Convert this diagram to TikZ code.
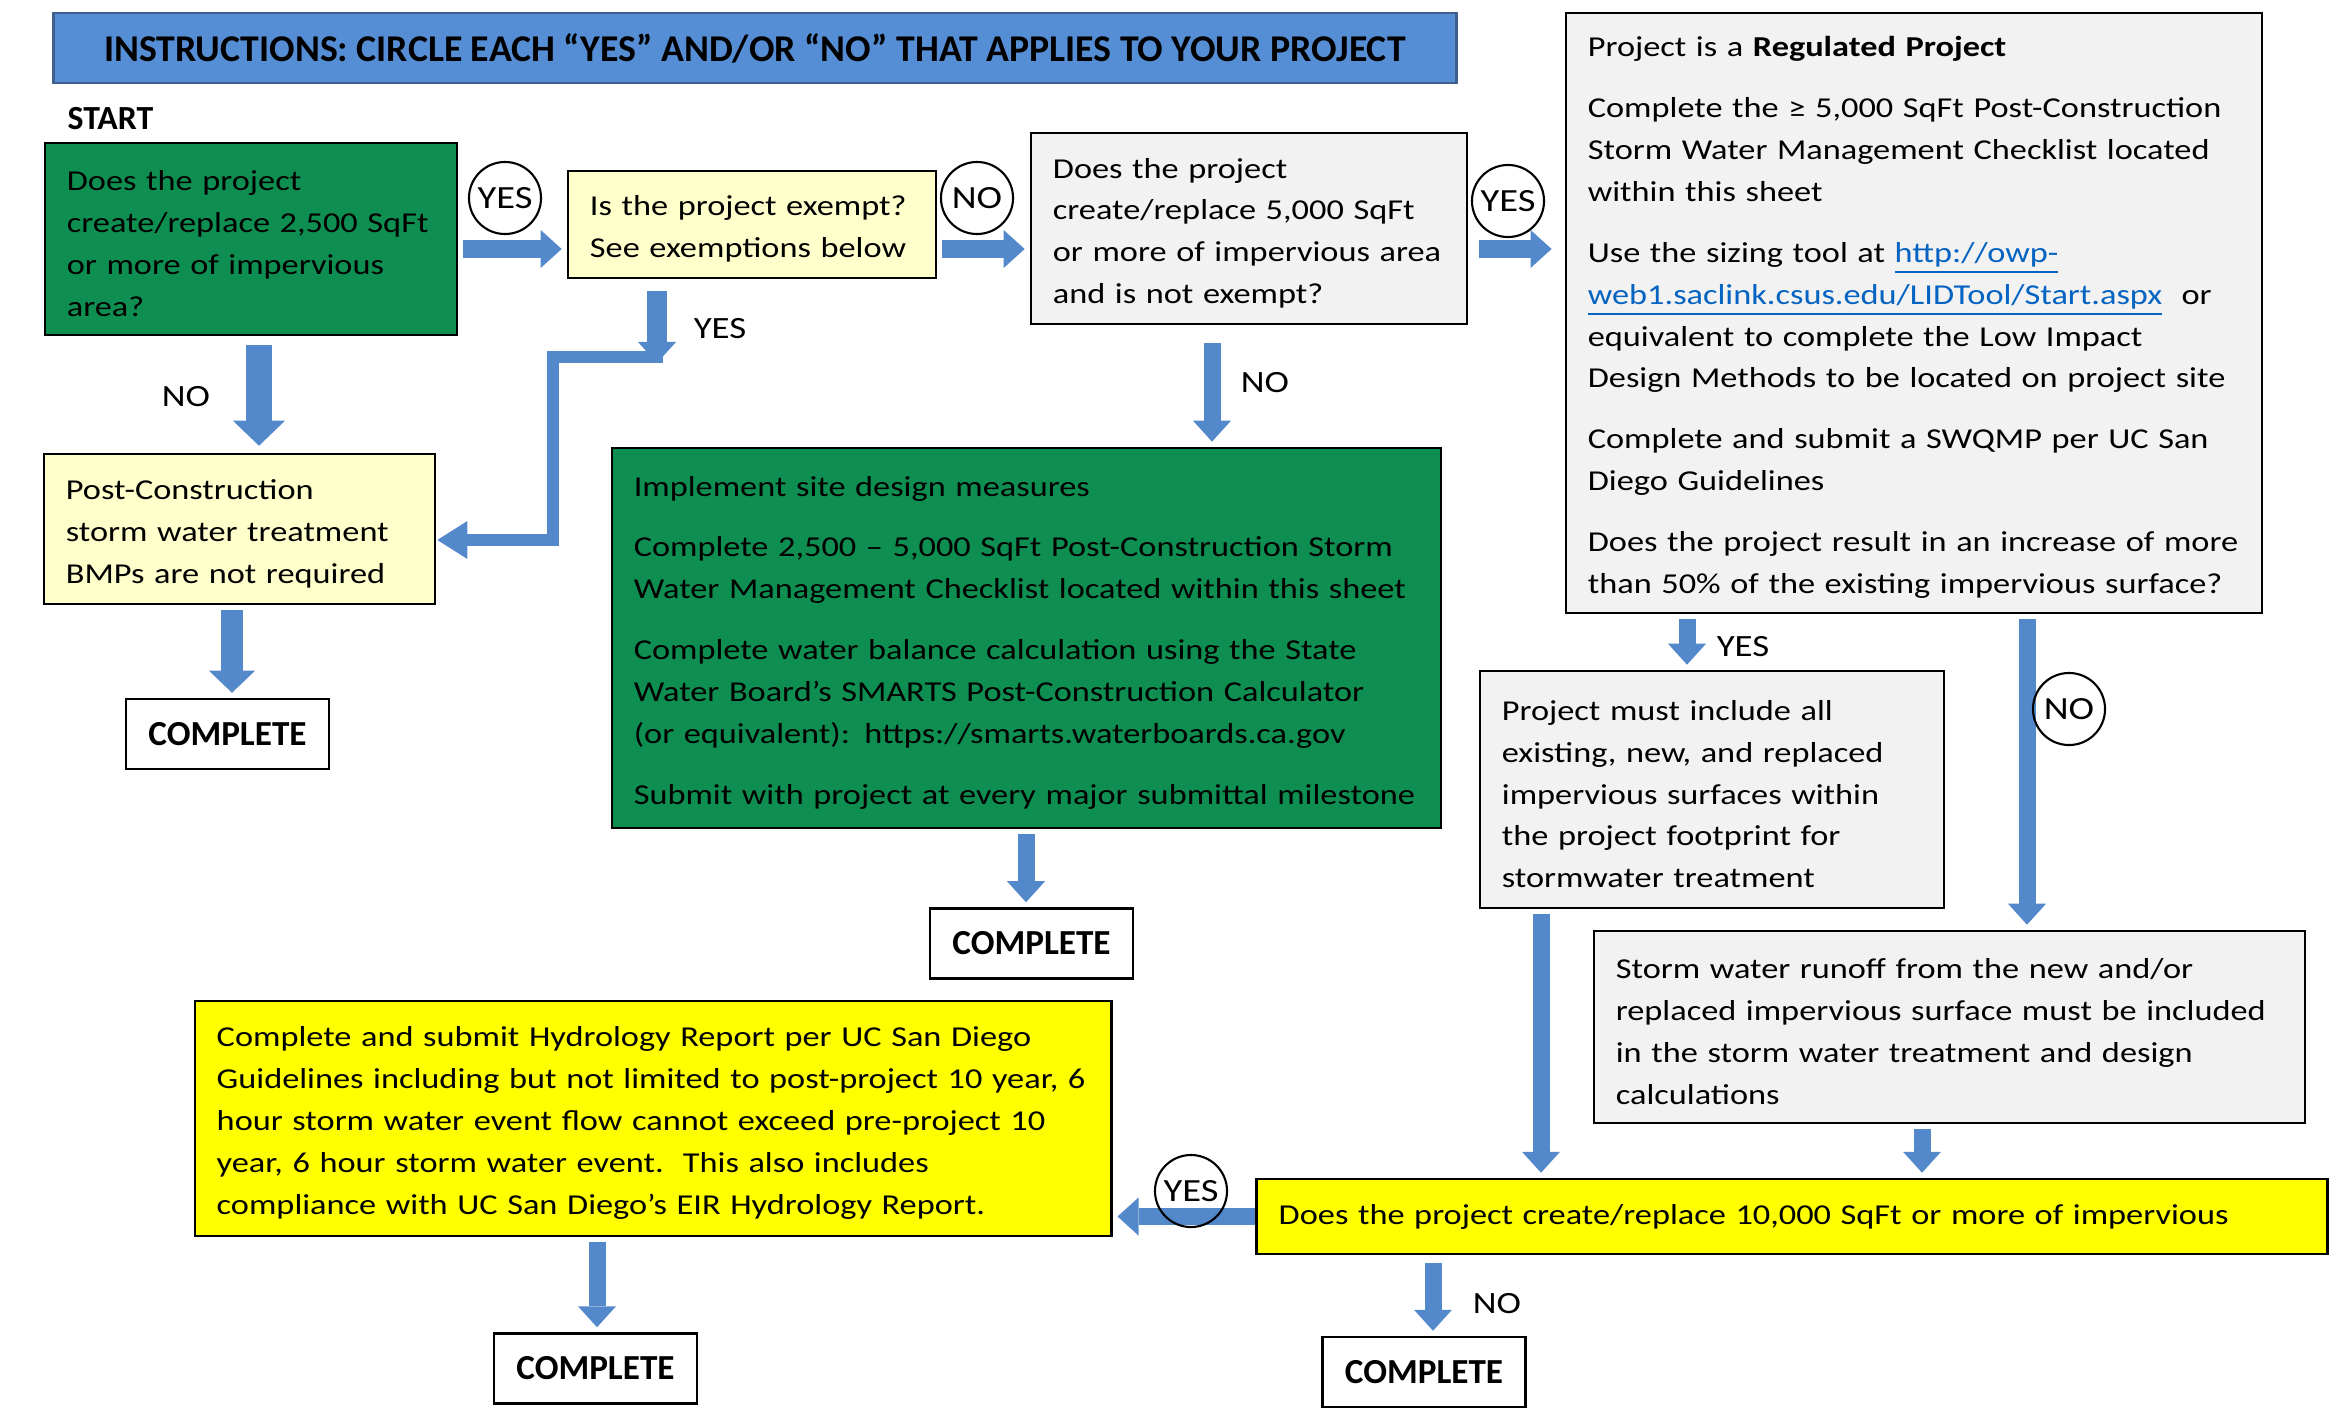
\documentclass[tikz,border=0pt]{standalone}
\usepackage{fontspec}
\setmainfont{Carlito}[FakeStretch=1.19]
\newfontfamily\headfont{Carlito}
\usetikzlibrary{arrows.meta}

\definecolor{barblue}{RGB}{85,142,213}
\definecolor{baredge}{RGB}{65,95,140}
\definecolor{flowblue}{RGB}{83,136,203}
\definecolor{gogreen}{RGB}{14,142,80}
\definecolor{paleyellow}{RGB}{255,255,204}
\definecolor{palegrey}{RGB}{242,242,242}
\definecolor{brightyellow}{RGB}{255,255,0}
\definecolor{linkblue}{RGB}{5,99,193}

\newcommand{\weblink}[1]{\textcolor{linkblue}{\underline{#1}}}

\begin{document}
\begin{tikzpicture}[
  x=0.01cm, y=-0.01cm,
  box/.style={draw, line width=0.7pt, inner xsep=0.22cm, inner ysep=0pt, align=left,
              font=\fontsize{8.2}{11.9}\selectfont, execute at begin node=\strut},
  done/.style={draw, line width=0.7pt, minimum width=2.03cm, minimum height=0.70cm,
               font=\headfont\bfseries\fontsize{10}{12}\selectfont},
  pick/.style={draw, circle, line width=0.6pt, minimum size=0.72cm, inner sep=0pt,
               font=\fontsize{9.2}{11}\selectfont},
  tag/.style={font=\fontsize{8.8}{11}\selectfont},
  arr/.style={draw=flowblue, line width=0.17cm, shorten <=0.05cm, shorten >=0.05cm,
              -{Triangle[width=0.38cm,length=0.21cm,line width=0pt]}},
]
\useasboundingbox (0,0) rectangle (2334,1418);

% header
\node[fill=barblue, draw=baredge, line width=0.7pt, minimum width=14.02cm, minimum height=0.70cm,
      font=\headfont\bfseries\fontsize{10.75}{12}\selectfont] (title) at (755,48)
  {INSTRUCTIONS: CIRCLE EACH “YES” AND/OR “NO” THAT APPLIES TO YOUR PROJECT};
\node[anchor=west, inner sep=0pt, font=\headfont\bfseries\fontsize{9.6}{12}\selectfont] (start) at (67,119) {START};

% first row
\node[box, fill=gogreen, text width=3.68cm, minimum height=1.92cm] (q2500) at (251,239)
  {Does the project\\ create/replace 2,500 SqFt\\ or more of impervious\\ area?};
\node[box, fill=paleyellow, text width=3.24cm, minimum height=1.07cm] (exempt) at (752,224.5)
  {Is the project exempt?\\ See exemptions below};
\node[box, fill=palegrey, text width=3.92cm, minimum height=1.91cm] (q5000) at (1249,228.5)
  {Does the project\\ create/replace 5,000 SqFt\\ or more of impervious area\\ and is not exempt?};
\node[box, fill=palegrey, text width=6.52cm, minimum height=6.00cm] (regulated) at (1914,313)
  {Project is a \textbf{Regulated Project}\\[0.19cm]
   Complete the ≥ 5,000 SqFt Post-Construction\\
   Storm Water Management Checklist located\\
   within this sheet\\[0.19cm]
   Use the sizing tool at \weblink{http://owp-}\\
   \weblink{web1.saclink.csus.edu/LIDTool/Start.aspx}\ \ or\\
   equivalent to complete the Low Impact\\
   Design Methods to be located on project site\\[0.19cm]
   Complete and submit a SWQMP per UC San\\
   Diego Guidelines\\[0.19cm]
   Does the project result in an increase of more\\
   than 50\% of the existing impervious surface?};

% middle
\node[box, fill=paleyellow, text width=3.47cm, minimum height=1.50cm] (notreq) at (239.5,529)
  {Post-Construction\\ storm water treatment\\ BMPs are not required};
\node[box, fill=gogreen, text width=7.85cm, minimum height=3.80cm] (measures) at (1026.5,638)
  {Implement site design measures\\[0.19cm]
   Complete 2,500 – 5,000 SqFt Post-Construction Storm\\
   Water Management Checklist located within this sheet\\[0.19cm]
   Complete water balance calculation using the State\\
   Water Board’s SMARTS Post-Construction Calculator\\
   (or equivalent): https://smarts.waterboards.ca.gov\\[0.19cm]
   Submit with project at every major submittal milestone};
\node[box, fill=palegrey, text width=4.20cm, minimum height=2.37cm] (footprint) at (1712,789.5)
  {Project must include all\\ existing, new, and replaced\\ impervious surfaces within\\
   the project footprint for\\ stormwater treatment};
\node[box, fill=palegrey, text width=6.67cm, minimum height=1.92cm] (runoff) at (1949.5,1027)
  {Storm water runoff from the new and/or\\ replaced impervious surface must be included\\
   in the storm water treatment and design\\ calculations};

% bottom
\node[box, fill=brightyellow, text width=10.26cm, minimum height=0.75cm] (q10000) at (1792,1216.5)
  {Does the project create/replace 10,000 SqFt or more of impervious};
\node[box, fill=brightyellow, text width=8.72cm, minimum height=2.35cm] (hydro) at (653,1118.5)
  {Complete and submit Hydrology Report per UC San Diego\\
   Guidelines including but not limited to post-project 10 year, 6\\
   hour storm water event flow cannot exceed pre-project 10\\
   year, 6 hour storm water event.\ \ This also includes\\
   compliance with UC San Diego’s EIR Hydrology Report.};

\node[done] (doneA) at (227.5,734) {COMPLETE};
\node[done] (doneB) at (1031.5,943.5) {COMPLETE};
\node[done] (doneC) at (595.5,1368.5) {COMPLETE};
\node[done] (doneD) at (1424,1372) {COMPLETE};

% connectors
\coordinate (yesjoin) at (657,363);
\draw[arr] (q2500.east |- 0,249) -- (exempt.west |- 0,249);
\draw[arr] (exempt.east |- 0,249) -- (q5000.west |- 0,249);
\draw[arr, shorten <=0.11cm, shorten >=0.13cm] (q5000.east |- 0,249) -- (regulated.west |- 0,249);
\draw[arr, line width=0.26cm, shorten <=0.09cm, shorten >=0.07cm,
      -{Triangle[width=0.52cm,length=0.25cm,line width=0pt]}] (q2500.south -| 259,0) -- (notreq.north -| 259,0);
\draw[arr, line width=0.2cm, shorten <=0.12cm, shorten >=0pt] (exempt.south -| 657,0) -- (yesjoin);
\draw[arr, line width=0.12cm, shorten <=0pt, shorten >=0.01cm,
      -{Triangle[width=0.38cm,length=0.3cm,line width=0pt]}]
  ([xshift=0.06cm]yesjoin |- 0,357) -| (553,540) -- (notreq.east |- 0,540);
\draw[arr, shorten <=0.18cm] (q5000.south -| 1212,0) -- (measures.north -| 1212,0);
\draw[arr, line width=0.22cm, -{Triangle[width=0.46cm,length=0.22cm,line width=0pt]}]
  (notreq.south -| 232,0) -- (doneA.north -| 232,0);
\draw[arr] (measures.south -| 1026,0) -- (doneB.north -| 1026,0);
\draw[arr] (regulated.south -| 1687,0) -- (footprint.north -| 1687,0);
\draw[arr] (regulated.south -| 2027,0) -- (runoff.north -| 2027,0);
\draw[arr] (footprint.south -| 1541,0) -- (q10000.north -| 1541,0);
\draw[arr] (runoff.south -| 1922,0) -- (q10000.north -| 1922,0);
\draw[arr, shorten <=0pt] (q10000.west) -- (hydro.east |- q10000.west);
\draw[arr] (hydro.south -| 597,0) -- (doneC.north -| 597,0);
\draw[arr, shorten <=0.08cm] (q10000.south -| 1433,0) -- (doneD.north -| 1433,0);

% answers
\node[pick] (yes1) at (505,198) {YES};
\node[pick] (no1) at (977,198) {NO};
\node[pick] (yes2) at (1508,201) {YES};
\node[pick] (no2) at (2069,709) {NO};
\node[pick] (yes3) at (1191,1191) {YES};
\node[tag] (noA) at (186,397) {NO};
\node[tag] (yesB) at (720,329) {YES};
\node[tag] (noC) at (1265,383) {NO};
\node[tag] (yesD) at (1743,647) {YES};
\node[tag] (noE) at (1497,1304) {NO};
\end{tikzpicture}
\end{document}
